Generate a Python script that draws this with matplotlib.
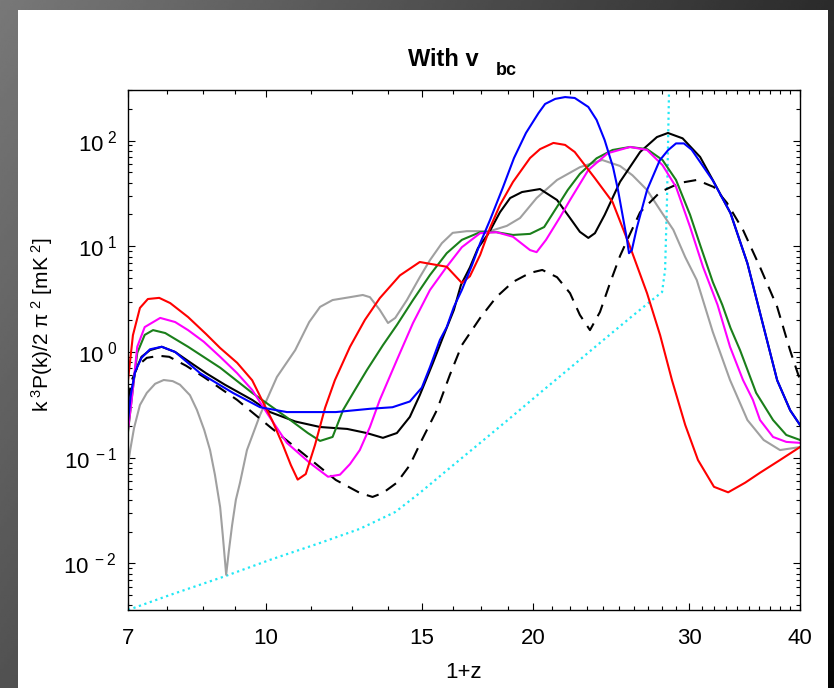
import numpy as np
import matplotlib
matplotlib.use("Agg")
import matplotlib.pyplot as plt
from matplotlib.ticker import FixedLocator, NullFormatter, LogLocator
from matplotlib.patches import Rectangle

plt.rcParams["font.family"] = ["Liberation Sans", "DejaVu Sans"]
plt.rcParams["mathtext.fontset"] = "custom"
plt.rcParams["mathtext.rm"] = "Liberation Sans"
plt.rcParams["mathtext.it"] = "Liberation Sans:italic"
plt.rcParams["mathtext.bf"] = "Liberation Sans:bold"

# 1+z and k^3 P(k) / 2 pi^2 [mK^2]
red_z = [7.00, 7.09, 7.22, 7.37, 7.59, 7.81, 8.18, 8.57, 8.89, 9.29, 9.66, 9.91, 10.17, 10.46, 10.68, 10.87,
         11.10, 11.37, 11.67, 11.97, 12.45, 12.94, 13.45, 14.17, 14.92, 16.00, 16.64, 16.99, 17.45, 17.90,
         18.37, 19.00, 19.86, 20.38, 21.10, 21.75, 22.30, 23.50, 24.60, 25.74, 26.90, 27.83, 28.70, 29.70,
         30.70, 32.00, 33.20, 34.70, 36.06, 37.98, 40.00]
red_p = [0.54, 1.44, 2.61, 3.17, 3.25, 2.90, 2.14, 1.48, 1.09, 0.79, 0.54, 0.35, 0.227, 0.132, 0.085, 0.062,
         0.070, 0.132, 0.296, 0.54, 1.12, 2.01, 3.23, 5.3, 7.1, 6.4, 4.5, 5.2, 8.3, 14.9,
         24.6, 40.6, 68.4, 83, 95, 91, 78, 44, 26.2, 9.9, 3.6, 1.44, 0.54, 0.204,
         0.095, 0.053, 0.047, 0.058, 0.072, 0.095, 0.126]

blue_z = [7.00, 7.05, 7.13, 7.25, 7.41, 7.64, 7.91, 8.44, 9.19, 9.86, 10.57, 12.0, 13.11, 13.9, 14.54, 15.0,
          15.32, 15.72, 16.0, 16.3, 16.64, 17.08, 17.45, 17.9, 18.5, 19.05, 19.65, 20.3, 20.65, 21.2, 21.75,
          22.3, 23.1, 23.6, 24.1, 24.63, 24.95, 25.28, 25.54, 25.67, 25.86, 26.2, 26.9, 27.8, 28.4, 29.0,
          29.6, 30.2, 31.9, 33.4, 34.9, 36.4, 37.7, 39.0, 40.0]
blue_p = [0.22, 0.39, 0.65, 0.88, 1.06, 1.12, 1.00, 0.63, 0.41, 0.30, 0.27, 0.27, 0.29, 0.30, 0.34, 0.46,
          0.72, 1.30, 1.72, 2.67, 3.86, 6.6, 10.7, 17.7, 35.6, 68.4, 118, 182, 222, 248, 258,
          253, 208, 157, 101, 56, 34, 18.5, 11.5, 8.6, 9.2, 15, 34, 65, 81, 94,
          94, 82, 42, 20.6, 6.9, 1.72, 0.54, 0.28, 0.204]

magenta_z = [7.00, 7.07, 7.17, 7.31, 7.61, 7.91, 8.18, 8.52, 8.89, 9.29, 9.66, 10.07, 10.57, 11.22, 11.76,
             12.13, 12.45, 12.77, 13.11, 13.45, 14.06, 14.66, 15.32, 16.0, 16.64, 17.45, 18.2, 19.0, 19.86,
             20.2, 20.7, 21.47, 22.03, 23.1, 24.3, 25.74, 26.9, 28.0, 29.0, 30.08, 31.1, 32.3, 33.36, 34.5,
             35.4, 36.06, 37.3, 38.6, 40.0]
magenta_p = [0.183, 0.36, 1.12, 1.72, 2.10, 1.92, 1.61, 1.25, 0.90, 0.63, 0.437, 0.254, 0.138, 0.089, 0.066,
             0.069, 0.087, 0.118, 0.195, 0.352, 0.84, 1.88, 3.86, 6.4, 9.8, 13.3, 13.6, 12.3, 9.2,
             8.8, 11.5, 18.9, 27.4, 52.7, 76, 87, 81.5, 58.6, 36.4, 15.2, 6.4, 2.79, 1.12, 0.543,
             0.352, 0.227, 0.157, 0.141, 0.138]

green_z = [7.00, 7.07, 7.17, 7.31, 7.47, 7.71, 8.18, 8.89, 9.66, 10.57, 11.16, 11.52, 11.9, 12.23, 12.61,
           13.01, 13.56, 14.06, 14.66, 15.32, 16.0, 16.64, 17.45, 18.2, 19.0, 19.86, 20.6, 21.3, 21.9, 22.6,
           23.6, 24.6, 25.74, 26.9, 28.0, 29.0, 30.08, 30.87, 31.9, 32.7, 33.4, 34.24, 35.7, 37.3, 38.6, 40.0]
green_p = [0.175, 0.37, 0.98, 1.45, 1.61, 1.51, 1.12, 0.71, 0.41, 0.24, 0.171, 0.144, 0.157, 0.283, 0.437,
           0.676, 1.16, 1.8, 3.10, 5.35, 8.6, 11.5, 13.6, 13.6, 12.8, 13.1, 15.2, 23.6, 34.1, 48.4,
           68, 81.5, 87, 83, 65.5, 42.4, 19.8, 10.3, 4.6, 2.79, 1.69, 1.04, 0.41, 0.227, 0.164, 0.147]

black_z = [7.00, 7.05, 7.13, 7.25, 7.41, 7.64, 7.91, 8.22, 8.57, 9.0, 9.66, 10.12, 10.8, 11.52, 12.36, 13.0,
           13.56, 14.06, 14.54, 14.92, 15.44, 15.85, 16.3, 16.6, 16.99, 17.35, 17.85, 18.37, 18.86, 19.45,
           20.38, 21.3, 22.03, 22.6, 23.1, 23.5, 24.1, 25.08, 26.42, 27.6, 28.4, 29.5, 30.87, 31.9, 33.4,
           34.9, 36.4, 37.7, 39.0, 40.0]
black_p = [0.20, 0.39, 0.65, 0.90, 1.04, 1.12, 1.00, 0.80, 0.63, 0.49, 0.352, 0.27, 0.22, 0.195, 0.187, 0.171,
           0.154, 0.171, 0.243, 0.39, 0.79, 1.39, 2.5, 4.3, 6.3, 9.6, 13.4, 21, 28.6, 32.6,
           34.8, 27.4, 18.5, 13.7, 12.0, 13.3, 19.8, 40.7, 78, 108, 118, 105, 70, 42.4, 20.6,
           6.9, 1.72, 0.54, 0.28, 0.204]

dashed_z = [7.00, 7.07, 7.19, 7.35, 7.59, 7.79, 8.14, 8.52, 9.29, 10.12, 11.0, 12.0, 12.77, 13.2, 13.56,
            14.06, 14.54, 15.0, 15.6, 16.13, 16.64, 17.45, 18.2, 19.0, 19.86, 20.5, 21.3, 22.03, 22.6, 23.2,
            23.81, 24.44, 25.08, 25.74, 26.42, 27.83, 29.31, 30.6, 32.0, 33.1, 34.5, 36.06, 37.7, 38.98, 40.0]
dashed_p = [0.352, 0.543, 0.75, 0.88, 0.92, 0.90, 0.74, 0.58, 0.352, 0.195, 0.111, 0.0615, 0.0464, 0.0425, 0.0464,
            0.058, 0.085, 0.147, 0.283, 0.606, 1.16, 2.10, 3.31, 4.6, 5.6, 5.97, 5.1, 3.6, 2.24, 1.61,
            2.39, 4.5, 8.1, 13.1, 21.0, 32.6, 39.8, 42.4, 36.3, 25.7, 14.3, 6.35, 2.67, 1.04, 0.543]

gray_z = [7.00, 7.04, 7.11, 7.22, 7.35, 7.51, 7.68, 7.86, 8.01, 8.22, 8.37, 8.53, 8.66, 8.77, 8.89, 8.95,
          9.03, 9.09, 9.17, 9.26, 9.36, 9.53, 9.86, 10.3, 10.8, 11.2, 11.52, 11.9, 12.45, 12.87, 13.11,
          13.45, 13.74, 14.0, 14.43, 14.92, 15.32, 15.8, 16.25, 16.86, 17.9, 18.7, 19.35, 20.2, 21.3, 22.6,
          23.95, 25.08, 25.9, 26.9, 27.83, 28.8, 29.7, 30.6, 31.9, 33.36, 34.9, 36.4, 37.98, 40.0]
gray_p = [0.085, 0.118, 0.19, 0.315, 0.41, 0.50, 0.543, 0.53, 0.49, 0.39, 0.283, 0.183, 0.118, 0.069, 0.034, 0.0186,
          0.0078, 0.0128, 0.023, 0.040, 0.058, 0.118, 0.254, 0.58, 1.04, 1.92, 2.67, 3.10, 3.3, 3.46, 3.3,
          2.5, 1.88, 2.1, 3.10, 5.1, 7.4, 10.7, 13.4, 13.9, 13.9, 15.6, 18.5, 28.6, 42.4, 56,
          65.5, 57.5, 47, 34.1, 22.0, 14.3, 7.9, 4.8, 1.55, 0.543, 0.227, 0.147, 0.118, 0.126]

cyan_z = [7.0, 7.81, 8.96, 10.12, 11.52, 12.77, 14.0, 14.92, 16.13, 17.45, 18.86, 20.38, 22.03, 23.81, 25.74,
          27.25, 27.97, 28.19, 28.33, 28.48, 28.56]
cyan_p = [0.00362, 0.00503, 0.00745, 0.0108, 0.0156, 0.0212, 0.0306, 0.0464, 0.080, 0.138, 0.237, 0.41, 0.706,
          1.22, 2.1, 3.10, 3.69, 5.97, 27.4, 301, 600]

x_major = [7, 10, 15, 20, 30, 40]
x_minor = [7.75, 8.5, 9.25, 11.25, 12.5, 13.75, 16.25, 17.5, 18.75] + list(range(21, 30)) + list(range(31, 40))
y_major = [1e-2, 1e-1, 1e0, 1e1, 1e2]
y_labels = [r"10$^{\ -2}$", r"10$^{\ -1}$", r"10$^{\ 0}$", r"10$^{\ 1}$", r"10$^{\ 2}$"]

W, H = 834, 688
fig = plt.figure(figsize=(W / 100, H / 100), dpi=100)

# grey gradient frame with the white panel
bg = fig.add_axes([0, 0, 1, 1])
bg.set_axis_off()
gx, gy = np.meshgrid(np.linspace(0, 1, 300), np.linspace(0, 1, 300))
shade = 0.47 - 0.30 * gx - 0.15 * gy
bg.imshow(shade, cmap="gray", vmin=0, vmax=1, extent=[0, 1, 0, 1], aspect="auto", origin="upper")
bg.add_patch(Rectangle((18 / W, 0), 810 / W, 678 / H, facecolor="white", edgecolor="none"))
bg.set_xlim(0, 1)
bg.set_ylim(0, 1)

ax = fig.add_axes([128 / W, 78 / H, 672 / W, 520 / H])
lw = 1.5
ax.plot(cyan_z, cyan_p, color="#22e8f5", lw=1.6, ls=(0, (1, 1.6)))
ax.plot(gray_z, gray_p, color="#a0a0a0", lw=lw)
ax.plot(dashed_z, dashed_p, color="black", lw=lw, ls=(0, (6, 4)))
ax.plot(black_z, black_p, color="black", lw=lw)
ax.plot(green_z, green_p, color="#1a7f1a", lw=lw)
ax.plot(magenta_z, magenta_p, color="#ff00ff", lw=lw)
ax.plot(red_z, red_p, color="#ff0000", lw=lw)
ax.plot(blue_z, blue_p, color="#0000ff", lw=lw)

ax.set_xscale("log")
ax.set_yscale("log")
ax.set_xlim(7, 40)
ax.set_ylim(3.62e-3, 301)

ax.xaxis.set_major_locator(FixedLocator(x_major))
ax.set_xticklabels([str(v) for v in x_major])
ax.xaxis.set_minor_locator(FixedLocator(x_minor))
ax.xaxis.set_minor_formatter(NullFormatter())
ax.yaxis.set_major_locator(FixedLocator(y_major))
ax.set_yticklabels(y_labels)
ax.yaxis.set_minor_locator(LogLocator(base=10, subs=np.arange(2, 10)))
ax.yaxis.set_minor_formatter(NullFormatter())

ax.tick_params(which="both", direction="in", top=True, right=True, width=0.8, labelsize=16)
ax.tick_params(which="major", length=5)
ax.tick_params(which="minor", length=3)
ax.tick_params(axis="x", which="major", pad=13)
ax.tick_params(axis="y", which="major", pad=8)
for s in ax.spines.values():
    s.set_linewidth(1.0)

# title: "With v" with a lowered bold "bc" subscript
fig.text(479 / W, 1 - 66 / H, "With v", ha="right", va="baseline", fontsize=17, fontweight="bold")
fig.text(496 / W, 1 - 75 / H, "bc", ha="left", va="baseline", fontsize=13, fontweight="bold")
fig.text(464 / W, 1 - 672 / H, "1+z", ha="center", va="center", fontsize=16)
fig.text(42 / W, 1 - 325 / H, r"k$^{\ 3}$P(k)/2 π$^{\ 2}$ [mK$^{\ 2}$]", ha="center", va="center",
         rotation=90, fontsize=15)

fig.savefig("out.png", dpi=100)
